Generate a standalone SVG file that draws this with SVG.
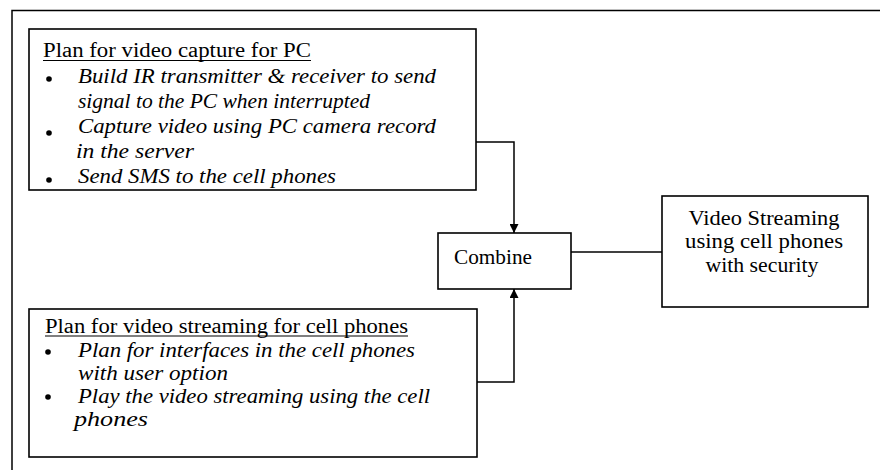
<svg xmlns="http://www.w3.org/2000/svg" width="880" height="470" viewBox="0 0 880 470">
<style>
.box{fill:#fff;stroke:#000;stroke-width:1.6}
.t{font-family:"Liberation Serif","Times New Roman",serif;font-size:20px;fill:#000}
.i{font-style:italic}
.c{text-anchor:middle}
.conn{fill:none;stroke:#000;stroke-width:1.5}
</style>
<defs>
<marker id="ah" viewBox="0 0 10 10" refX="10" refY="5" markerWidth="10" markerHeight="9" orient="auto" markerUnits="userSpaceOnUse">
<path d="M0,0 L10,5 L0,10 z" fill="#000"/>
</marker>
</defs>
<rect width="880" height="470" fill="#fff"/>
<g id="frame"><rect x="12" y="10.5" width="900" height="500" fill="none" stroke="#000" stroke-width="1.5"/></g>
<g id="connectors">
<path class="conn" d="M476,142 H514 V233" marker-end="url(#ah)"/>
<path class="conn" d="M477,382 H514 V289" marker-end="url(#ah)"/>
<path class="conn" d="M571,252 H662"/>
</g>
<g id="node-capture">
<rect class="box" x="29" y="29" width="447" height="161"/>
<text class="t" x="43" y="57" textLength="268" lengthAdjust="spacingAndGlyphs">Plan for video capture for PC</text>
<line x1="43" y1="60.5" x2="311" y2="60.5" stroke="#000" stroke-width="1.2"/>
<circle cx="49" cy="79" r="2.8"/><circle cx="49" cy="133" r="2.8"/><circle cx="49" cy="180" r="2.8"/>
<text class="t i" x="78" y="83" textLength="358" lengthAdjust="spacingAndGlyphs">Build IR transmitter &amp; receiver to send</text>
<text class="t i" x="78" y="108" textLength="292" lengthAdjust="spacingAndGlyphs">signal to the PC when interrupted</text>
<text class="t i" x="78" y="133" textLength="358" lengthAdjust="spacingAndGlyphs">Capture video using PC camera record</text>
<text class="t i" x="76" y="158" textLength="118" lengthAdjust="spacingAndGlyphs">in the server</text>
<text class="t i" x="78" y="183" textLength="258" lengthAdjust="spacingAndGlyphs">Send SMS to the cell phones</text>
</g>
<g id="node-streaming">
<rect class="box" x="29" y="309" width="448" height="148"/>
<text class="t" x="45" y="333" textLength="363" lengthAdjust="spacingAndGlyphs">Plan for video streaming for cell phones</text>
<line x1="45" y1="336" x2="408" y2="336" stroke="#000" stroke-width="1.2"/>
<circle cx="48" cy="352" r="2.8"/><circle cx="48" cy="397" r="2.8"/>
<text class="t i" x="78" y="357" textLength="337" lengthAdjust="spacingAndGlyphs">Plan for interfaces in the cell phones</text>
<text class="t i" x="78" y="380" textLength="150" lengthAdjust="spacingAndGlyphs">with user option</text>
<text class="t i" x="78" y="403" textLength="352" lengthAdjust="spacingAndGlyphs">Play the video streaming using the cell</text>
<text class="t i" x="74" y="426" textLength="74" lengthAdjust="spacingAndGlyphs">phones</text>
</g>
<g id="node-combine">
<rect class="box" x="438" y="233" width="133" height="56"/>
<text class="t" x="454" y="264" textLength="78" lengthAdjust="spacingAndGlyphs">Combine</text>
</g>
<g id="node-result">
<rect class="box" x="662" y="196" width="206" height="111"/>
<text class="t c" x="764" y="225" textLength="151" lengthAdjust="spacingAndGlyphs">Video Streaming</text>
<text class="t c" x="764" y="248" textLength="158" lengthAdjust="spacingAndGlyphs">using cell phones</text>
<text class="t c" x="762" y="272" textLength="113" lengthAdjust="spacingAndGlyphs">with security</text>
</g>
</svg>
